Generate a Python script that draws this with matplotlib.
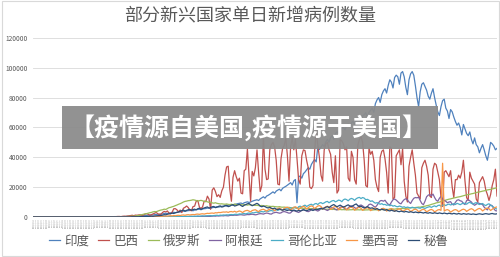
import matplotlib
matplotlib.use("Agg")
import matplotlib.pyplot as plt
from matplotlib.patches import Rectangle
import numpy as np
import pandas as pd

plt.rcParams['font.family'] = ['Noto Sans CJK SC', 'DejaVu Sans']

# daily new cases, thousands (291 days from 2020-01-22)
dates = pd.date_range("2020-01-22", periods=291, freq="D")
date_labels = [f"{d.year}/{d.month}/{d.day}" for d in dates]

india = [
    0, 0, 0, 0, 0, 0, 0, 0, 0, 0, 0, 0, 0, 0, 0, 0, 0, 0, 0, 0,
    0, 0, 0, 0, 0, 0, 0, 0, 0, 0, 0, 0, 0, 0, 0, 0, 0, 0, 0, 0,
    0, 0, 0, 0, 0, 0, 0, 0, 0.1, 0.1,
    0.1, 0.1, 0.1, 0.1, 0.2, 0.1, 0.2, 0.2, 0.3, 0.3,
    0.4, 0.5, 0.5, 0.5, 0.6, 0.7, 0.6, 0.8, 0.9, 0.8,
    0.9, 1.0, 1.1, 1.2, 1.3, 1.2, 1.5, 1.6, 1.4, 1.8,
    1.9, 2.0, 2.3, 2.4, 2.2, 2.6, 2.7, 2.9, 3.1, 2.8,
    3.2, 3.4, 3.3, 3.6, 3.9, 3.7, 4.0, 4.2, 4.3, 4.5,
    4.1, 4.6, 4.9, 5.0, 5.2, 4.8, 5.3, 5.5, 5.6, 5.9,
    6.0, 5.6, 6.2, 6.4, 6.5, 6.9, 6.6, 6.8, 7.1, 7.3,
    7.5, 7.2, 7.8, 8.0, 8.2, 7.7, 8.4, 8.6, 8.9, 9.1,
    9.3, 8.8, 9.5, 9.8, 10.1, 9.7, 10.0, 10.5, 10.9, 11.2,
    11.5, 11.0, 12.1, 12.8, 13.5, 12.6, 14.0, 14.5, 15.2, 16.0,
    16.8, 15.9, 17.3, 18.0, 18.6, 17.5, 19.2, 19.9, 20.5, 21.3,
    22.1, 23.0, 21.4, 24.2, 25.1, 9.5, 26.8, 27.5, 26.0, 29.0,
    30.1, 31.5, 33.0, 32.0, 35.2, 37.0, 38.5, 36.9, 47.0, 45.2,
    46.8, 48.5, 47.1, 50.3, 52.0, 50.1, 53.2, 54.5, 52.0, 55.8,
    57.1, 56.2, 58.0, 59.5, 60.2, 58.4, 61.0, 62.3, 60.5, 63.1,
    64.0, 62.1, 64.8, 66.0, 67.2, 64.5, 67.8, 68.5, 69.9, 66.5,
    70.1, 71.5, 73.0, 70.2, 76.0, 78.5, 80.1, 76.8, 82.0, 84.5,
    86.0, 83.1, 88.2, 92.0, 90.4, 86.5, 93.5, 95.1, 94.0, 89.0,
    96.5, 97.5, 94.0, 87.0, 82.0, 92.0, 96.0, 97.5, 95.0, 88.0,
    80.0, 74.0, 84.0, 89.0, 90.0, 87.5, 85.0, 81.0, 79.0, 83.0,
    86.0, 80.0, 75.0, 70.5, 68.0, 74.0, 78.0, 79.0, 73.0, 71.0,
    66.0, 72.0, 70.5, 67.0, 64.0, 61.5, 63.0, 60.0, 55.0, 62.0,
    59.0, 56.0, 54.5, 57.0, 52.0, 49.0, 53.0, 48.5, 47.0, 43.0,
    46.0, 48.5, 45.0, 41.0, 38.0, 44.0, 50.0, 49.0, 47.5, 45.0,
    46.0,
]

brazil = [
    0, 0, 0, 0, 0, 0, 0, 0, 0, 0, 0, 0, 0, 0, 0, 0, 0, 0, 0, 0,
    0, 0, 0, 0, 0, 0, 0, 0, 0, 0, 0, 0, 0, 0, 0, 0, 0, 0, 0, 0,
    0, 0, 0, 0, 0, 0, 0, 0.1, 0.1, 0.1,
    0.1, 0.2, 0.2, 0.3, 0.3, 0.2, 0.4, 0.5, 0.4, 0.6,
    0.7, 0.9, 1.1, 0.8, 1.2, 1.1, 1.3, 1.4, 1.1, 1.2,
    1.9, 2.2, 1.8, 1.1, 1.5, 2.0, 2.5, 3.0, 2.1, 1.7,
    1.8, 3.0, 3.7, 3.3, 4.0, 2.5, 2.1, 3.3, 5.5, 5.5,
    4.7, 3.4, 4.6, 2.9, 5.8, 6.4, 7.3, 6.3, 4.6, 4.1,
    6.9, 7.2, 10.5, 11.0, 6.6, 5.6, 6.8, 10.6, 10.2, 13.9,
    12.0, 5.1, 18.0, 19.5, 17.1, 13.6, 14.9, 13.1, 17.5, 19.9,
    28.0, 33.5, 34.0, 18.5, 10.5, 26.5, 31.0, 27.0, 24.0, 26.0,
    16.0, 15.5, 31.0, 32.0, 45.5, 28.5, 10.5, 30.5, 27.5, 33.0,
    45.0, 30.0, 17.0, 21.0, 54.0, 32.0, 25.0, 25.5, 45.0, 48.5,
    50.0, 47.0, 38.0, 22.0, 21.5, 39.0, 46.0, 48.0, 53.0, 41.0,
    24.0, 47.0, 53.0, 45.0, 52.0, 39.0, 25.0, 22.0, 41.0, 45.0,
    44.5, 38.0, 33.0, 20.0, 19.0, 21.0, 44.0, 58.0, 48.0, 40.0,
    28.0, 24.0, 45.0, 49.0, 50.0, 45.0, 42.0, 30.0, 23.0, 41.0,
    16.0, 18.0, 52.0, 51.0, 49.0, 45.0, 47.0, 26.0, 24.0, 44.0,
    40.0, 25.0, 22.0, 48.0, 52.0, 54.0, 50.0, 38.0, 21.0, 20.0,
    46.0, 42.0, 44.0, 38.0, 25.0, 20.0, 17.0, 40.0, 44.0, 45.0,
    39.0, 30.0, 16.0, 47.0, 46.0, 12.0, 13.0, 41.0, 43.0, 45.0,
    35.0, 46.0, 24.0, 14.0, 10.0, 34.0, 40.0, 45.0, 36.0, 28.0,
    16.0, 14.0, 12.0, 33.0, 36.0, 38.0, 34.0, 28.0, 14.0, 13.0,
    32.0, 36.0, 35.0, 30.0, 25.0, 13.0, 7.0, 30.0, 31.0, 29.0,
    27.0, 31.0, 20.0, 13.0, 25.0, 25.0, 28.0, 26.0, 30.0, 38.0,
    24.0, 13.0, 11.0, 30.0, 26.0, 24.0, 22.0, 12.0, 10.0, 23.0,
    25.0, 27.0, 24.0, 18.0, 15.0, 11.0, 15.0, 21.0, 25.0, 32.0,
    14.0,
]

russia = [
    0, 0, 0, 0, 0, 0, 0, 0, 0, 0, 0, 0, 0, 0, 0, 0, 0, 0, 0, 0,
    0, 0, 0, 0, 0, 0, 0, 0, 0, 0, 0, 0, 0, 0, 0, 0, 0, 0, 0, 0,
    0, 0, 0, 0, 0, 0, 0, 0, 0, 0,
    0, 0, 0.1, 0.1, 0.1, 0.1, 0.2, 0.2, 0.2, 0.3,
    0.3, 0.4, 0.5, 0.5, 0.6, 0.8, 1.0, 1.2, 1.5, 1.8,
    2.0, 2.2, 2.5, 2.8, 3.0, 3.4, 3.6, 3.5, 3.9, 4.3,
    4.6, 4.8, 5.2, 5.0, 5.6, 6.2, 6.4, 6.8, 7.1, 7.6,
    8.0, 8.5, 8.9, 9.4, 10.0, 10.4, 10.6, 10.9, 11.0, 11.2,
    11.5, 11.3, 11.0, 10.6, 10.9, 11.1, 10.8, 10.3, 10.5, 10.1,
    9.8, 9.9, 9.4, 9.2, 9.5, 9.1, 8.9, 8.7, 8.8, 8.6,
    8.5, 8.7, 8.4, 8.3, 8.5, 8.2, 8.6, 8.3, 8.1, 8.4,
    8.2, 8.0, 8.3, 8.1, 7.9, 8.2, 8.0, 7.8, 7.9, 7.7,
    7.8, 7.6, 7.5, 7.7, 7.4, 7.3, 7.5, 7.2, 7.1, 7.0,
    7.1, 6.9, 6.8, 6.7, 6.9, 6.6, 6.5, 6.6, 6.4, 6.3,
    6.4, 6.2, 6.1, 6.2, 6.0, 6.1, 5.9, 5.8, 5.9, 5.7,
    5.8, 5.6, 5.7, 5.5, 5.6, 5.4, 5.5, 5.3, 5.4, 5.3,
    5.4, 5.2, 5.3, 5.1, 5.2, 5.0, 5.1, 5.0, 5.1, 4.9,
    5.0, 4.9, 5.0, 4.8, 4.9, 4.8, 4.9, 4.7, 4.8, 4.8,
    4.9, 4.8, 4.7, 4.8, 4.7, 4.8, 4.7, 4.6, 4.7, 4.7,
    4.8, 4.7, 4.6, 4.7, 4.8, 4.7, 4.9, 4.8, 5.0, 4.9,
    5.0, 5.1, 5.0, 5.2, 5.1, 5.3, 5.2, 5.4, 5.5, 5.4,
    5.6, 5.7, 5.6, 5.8, 5.9, 6.0, 6.1, 6.2, 6.1, 6.3,
    6.4, 6.6, 6.5, 6.8, 7.0, 7.2, 7.5, 7.7, 8.0, 8.4,
    8.7, 9.0, 9.4, 9.6, 9.9, 10.3, 10.7, 10.9, 11.3, 11.6,
    11.9, 12.1, 12.4, 12.7, 12.9, 13.2, 13.4, 13.6, 13.9, 14.2,
    14.5, 14.8, 15.0, 15.2, 15.5, 15.7, 16.0, 16.3, 16.6, 16.8,
    17.0, 17.3, 17.5, 17.8, 18.1, 18.3, 18.5, 18.8, 19.0, 19.3,
    19.5,
]

argentina = [
    0, 0, 0, 0, 0, 0, 0, 0, 0, 0, 0, 0, 0, 0, 0, 0, 0, 0, 0, 0,
    0, 0, 0, 0, 0, 0, 0, 0, 0, 0, 0, 0, 0, 0, 0, 0, 0, 0, 0, 0,
    0, 0, 0, 0, 0, 0, 0, 0, 0, 0, 0, 0, 0, 0, 0, 0, 0, 0, 0, 0,
    0, 0, 0, 0, 0, 0, 0, 0, 0, 0,
    0.1, 0.1, 0.1, 0.1, 0.1, 0.1, 0.1, 0.1, 0.1, 0.1,
    0.1, 0.1, 0.1, 0.1, 0.1, 0.2, 0.1, 0.1, 0.2, 0.2,
    0.1, 0.1, 0.2, 0.1, 0.2, 0.1, 0.1, 0.2, 0.2, 0.3,
    0.2, 0.2, 0.3, 0.3, 0.2, 0.3, 0.3, 0.3, 0.4, 0.3,
    0.3, 0.4, 0.5, 0.6, 0.5, 0.7, 0.6, 0.7, 0.8, 0.7,
    0.9, 0.8, 0.7, 1.0, 1.1, 1.0, 1.2, 1.1, 1.2, 1.4,
    1.5, 1.3, 1.2, 1.4, 1.6, 1.5, 1.7, 1.8, 1.6, 1.4,
    1.6, 2.0, 2.2, 2.1, 1.9, 2.3, 2.6, 2.4, 2.0, 1.9,
    2.6, 2.9, 3.1, 2.8, 2.5, 2.7, 3.4, 3.6, 3.3, 2.9,
    2.5, 2.7, 3.9, 4.2, 3.8, 3.4, 3.0, 3.6, 4.5, 4.8,
    4.4, 3.9, 3.5, 4.0, 5.0, 5.3, 5.0, 4.4, 3.9, 4.5,
    5.6, 5.9, 5.4, 4.8, 4.3, 4.9, 6.0, 6.2, 5.8, 5.1,
    4.6, 5.5, 6.5, 6.7, 6.2, 5.5, 5.0, 6.0, 7.1, 7.4,
    7.0, 6.2, 5.6, 6.4, 7.6, 8.0, 7.4, 6.6, 6.0, 7.0,
    8.3, 8.6, 8.0, 7.1, 6.5, 7.8, 9.5, 10.8, 11.0, 10.5,
    11.2, 9.6, 8.5, 8.0, 9.9, 11.5, 12.0, 11.3, 10.2, 9.2,
    8.8, 10.4, 11.6, 12.2, 11.5, 10.0, 9.0, 11.0, 12.5, 13.0,
    12.8, 13.2, 11.0, 9.0, 8.2, 10.5, 13.5, 14.6, 15.0, 14.2,
    15.3, 13.0, 11.2, 10.5, 12.5, 13.8, 12.0, 11.0, 10.5, 9.5,
    10.0, 10.2, 8.5, 8.0, 9.8, 11.2, 11.5, 10.8, 10.5, 9.0,
    8.3, 11.0, 11.6, 10.8, 10.0, 8.6, 7.8, 8.5, 9.5, 9.0,
    8.8, 8.2, 6.5, 5.5, 4.7, 6.8, 8.0, 7.5, 5.5, 4.2,
    4.0,
]

colombia = [
    0, 0, 0, 0, 0, 0, 0, 0, 0, 0, 0, 0, 0, 0, 0, 0, 0, 0, 0, 0,
    0, 0, 0, 0, 0, 0, 0, 0, 0, 0, 0, 0, 0, 0, 0, 0, 0, 0, 0, 0,
    0, 0, 0, 0, 0, 0, 0, 0, 0, 0, 0, 0, 0, 0, 0, 0, 0, 0, 0, 0,
    0, 0, 0, 0, 0, 0, 0, 0, 0, 0, 0, 0, 0, 0, 0, 0, 0, 0, 0, 0,
    0.1, 0.1, 0.1, 0.1, 0.1, 0.2, 0.1, 0.2, 0.2, 0.2,
    0.2, 0.2, 0.3, 0.2, 0.3, 0.3, 0.4, 0.3, 0.4, 0.4,
    0.4, 0.5, 0.4, 0.6, 0.5, 0.6, 0.7, 0.6, 0.7, 0.8,
    0.8, 0.9, 0.7, 0.9, 1.0, 1.1, 0.9, 1.2, 1.1, 1.3,
    1.2, 1.4, 1.3, 1.5, 1.6, 1.4, 1.7, 1.8, 1.6, 2.0,
    1.9, 2.1, 2.3, 2.0, 2.4, 2.6, 2.3, 2.8, 2.7, 3.0,
    3.2, 2.9, 3.4, 3.6, 3.3, 3.8, 4.0, 3.7, 4.1, 4.3,
    3.9, 4.5, 4.8, 4.4, 4.9, 5.2, 4.6, 5.0, 5.5, 5.3,
    5.8, 6.1, 5.4, 6.5, 6.3, 5.7, 6.8, 7.2, 6.6, 7.4,
    7.9, 7.0, 7.6, 8.2, 8.5, 7.8, 8.7, 9.0, 8.3, 9.3,
    9.6, 8.9, 9.4, 10.1, 10.4, 9.5, 10.2, 10.8, 11.0, 10.1,
    10.6, 11.3, 11.0, 10.2, 11.5, 12.0, 11.6, 10.8, 11.9, 12.4,
    12.0, 11.1, 12.2, 12.8, 13.1, 12.3, 13.0, 12.6, 11.5, 11.8,
    11.2, 10.4, 10.8, 9.9, 9.2, 9.6, 9.0, 8.5, 8.9, 8.2,
    8.4, 7.8, 8.1, 7.5, 7.9, 7.2, 7.6, 7.0, 6.8, 7.3,
    6.9, 6.5, 6.8, 6.2, 6.6, 6.3, 6.0, 6.5, 6.2, 5.9,
    6.3, 6.0, 5.8, 6.4, 6.1, 5.7, 6.2, 6.6, 6.9, 6.4,
    7.0, 7.4, 6.8, 7.6, 7.9, 7.2, 7.8, 8.2, 7.6, 8.3,
    8.6, 8.0, 8.4, 8.9, 8.3, 9.1, 8.7, 8.2, 8.8, 9.3,
    9.0, 8.5, 9.4, 9.8, 9.1, 8.6, 9.2, 9.6, 8.8, 8.3,
    8.7, 9.0, 8.1, 7.6, 8.4, 8.8, 7.9, 7.2, 6.5, 5.8,
    5.2,
]

mexico = [
    0, 0, 0, 0, 0, 0, 0, 0, 0, 0, 0, 0, 0, 0, 0, 0, 0, 0, 0, 0,
    0, 0, 0, 0, 0, 0, 0, 0, 0, 0, 0, 0, 0, 0, 0, 0, 0, 0, 0, 0,
    0, 0, 0, 0, 0, 0, 0, 0, 0, 0, 0, 0, 0, 0, 0, 0, 0, 0, 0, 0,
    0.1, 0.1, 0.1, 0.1, 0.1, 0.1, 0.1, 0.2, 0.2, 0.2,
    0.2, 0.2, 0.3, 0.2, 0.3, 0.3, 0.4, 0.4, 0.4, 0.5,
    0.4, 0.5, 0.6, 0.5, 0.6, 0.7, 0.8, 0.7, 0.9, 0.8,
    1.0, 1.1, 0.9, 1.2, 1.3, 1.1, 1.4, 1.5, 1.3, 1.5,
    1.6, 1.5, 1.8, 1.9, 1.7, 2.0, 2.1, 1.9, 2.2, 2.4,
    2.3, 2.5, 2.6, 2.4, 2.8, 2.7, 3.0, 2.9, 3.1, 3.3,
    3.2, 3.4, 3.0, 3.5, 3.6, 3.3, 3.8, 3.2, 3.6, 4.0,
    3.6, 2.9, 3.8, 4.2, 4.4, 3.9, 3.4, 4.3, 4.6, 4.8,
    4.1, 3.5, 4.5, 4.9, 5.1, 4.6, 3.9, 4.7, 5.2, 5.6,
    5.0, 4.1, 4.9, 5.6, 6.0, 5.3, 4.4, 5.8, 6.3, 6.5,
    6.0, 4.7, 5.4, 6.4, 6.8, 6.2, 4.9, 6.0, 6.7, 7.1,
    6.6, 5.2, 6.2, 7.0, 7.4, 6.9, 5.5, 6.5, 7.3, 7.6,
    7.0, 5.3, 6.1, 6.8, 7.2, 6.7, 5.0, 5.8, 6.6, 7.0,
    6.4, 4.8, 5.6, 6.5, 6.9, 6.2, 4.7, 5.4, 6.3, 6.6,
    6.0, 4.5, 5.3, 6.1, 6.4, 5.8, 4.4, 5.1, 5.9, 6.2,
    5.6, 4.2, 5.0, 5.8, 6.0, 5.4, 4.1, 4.8, 5.5, 5.8,
    5.2, 3.9, 4.6, 5.3, 5.6, 5.0, 3.8, 4.4, 5.1, 5.4,
    4.9, 3.7, 4.3, 5.0, 5.3, 4.8, 3.6, 4.2, 4.9, 5.2,
    4.7, 3.5, 4.1, 4.8, 5.1, 4.6, 3.4, 4.0, 4.7, 5.0,
    4.5, 3.3, 4.0, 4.7, 4.9, 4.4, 36.0, 3.9, 4.6, 4.9,
    4.4, 3.2, 3.9, 4.6, 4.9, 4.5, 3.5, 4.1, 4.8, 5.2,
    4.8, 3.7, 4.4, 5.1, 5.5, 5.0, 3.9, 4.6, 5.3, 5.7,
    5.2, 4.0, 4.8, 5.6, 6.0, 5.5, 4.3, 5.1, 5.9, 6.4,
    6.7,
]

peru = [
    0, 0, 0, 0, 0, 0, 0, 0, 0, 0, 0, 0, 0, 0, 0, 0, 0, 0, 0, 0,
    0, 0, 0, 0, 0, 0, 0, 0, 0, 0, 0, 0, 0, 0, 0, 0, 0, 0, 0, 0,
    0, 0, 0, 0, 0, 0, 0, 0, 0, 0, 0, 0, 0, 0, 0, 0, 0, 0, 0, 0,
    0, 0, 0.1, 0.1, 0.1, 0.1, 0.1, 0.2, 0.2, 0.2,
    0.2, 0.3, 0.3, 0.4, 0.5, 0.4, 0.6, 0.7, 0.8, 0.9,
    1.0, 1.2, 1.5, 1.4, 1.8, 2.0, 2.2, 2.5, 2.3, 2.8,
    3.0, 3.3, 3.8, 4.2, 4.6, 3.9, 4.4, 4.8, 5.0, 4.5,
    4.9, 5.2, 4.7, 5.5, 5.8, 5.1, 5.6, 6.0, 6.4, 6.7,
    5.9, 6.3, 6.8, 7.0, 6.2, 6.5, 7.1, 7.4, 6.6, 6.9,
    7.5, 7.8, 6.9, 7.2, 7.9, 8.2, 7.3, 7.6, 8.1, 8.4,
    7.6, 7.0, 7.8, 8.3, 8.8, 9.0, 8.2, 7.5, 8.0, 8.6,
    9.1, 8.4, 7.2, 6.8, 7.3, 6.9, 6.3, 6.0, 6.5, 5.8,
    5.5, 5.9, 5.2, 4.9, 5.4, 4.8, 4.5, 5.0, 4.6, 4.3,
    4.7, 4.4, 4.1, 4.6, 4.2, 3.9, 4.4, 4.0, 4.3, 4.8,
    4.5, 4.1, 4.6, 5.0, 4.7, 4.3, 4.8, 5.2, 4.9, 5.5,
    5.8, 5.3, 6.0, 6.5, 6.9, 6.2, 7.1, 7.8, 8.3, 7.5,
    6.8, 7.4, 7.9, 7.2, 6.6, 7.0, 7.6, 8.1, 7.3, 6.9,
    7.5, 8.2, 8.7, 7.6, 6.8, 7.2, 6.5, 6.0, 6.4, 6.9,
    6.2, 5.8, 6.1, 5.5, 5.1, 5.6, 5.0, 4.7, 5.2, 4.8,
    4.5, 4.9, 4.3, 4.0, 4.5, 4.1, 3.8, 4.2, 3.7, 3.5,
    3.9, 3.6, 3.3, 3.7, 3.4, 3.1, 3.5, 3.2, 2.9, 3.3,
    3.0, 2.8, 3.1, 2.9, 2.6, 3.0, 2.7, 2.5, 2.9, 2.6,
    2.4, 2.8, 2.5, 2.3, 2.7, 2.4, 2.2, 2.6, 2.3, 2.1,
    2.5, 2.2, 2.0, 2.4, 2.1, 1.9, 2.3, 2.0, 1.8, 2.2,
    2.0, 1.8, 2.1, 1.9, 1.7, 2.0, 1.8, 1.6, 1.9, 2.1,
    1.9, 1.7, 2.0, 2.2, 2.0, 1.8, 2.1, 2.3, 2.0, 1.9,
    2.1,
]

names = ["印度", "巴西", "俄罗斯", "阿根廷", "哥伦比亚", "墨西哥", "秘鲁"]
series = [india, brazil, russia, argentina, colombia, mexico, peru]
colors = ["#4F81BD", "#C0504D", "#9BBB59", "#8064A2", "#4BACC6", "#F79646", "#2C4D75"]

fig = plt.figure(figsize=(5.0, 2.57), dpi=100)
ax = fig.add_axes([0.066, 0.156, 0.928, 0.696])

x = np.arange(len(dates))
for name, vals, c in zip(names, series, colors):
    ax.plot(x, np.array(vals) * 1000, color=c, lw=0.9, label=name)

ax.set_xlim(0, len(dates) - 1)
ax.set_ylim(0, 120000)
ax.set_yticks(np.arange(0, 120001, 20000))
ax.tick_params(axis='y', labelsize=4.8, labelcolor='#595959', length=0, pad=4)
ax.set_xticks(x)
ax.set_xticklabels(date_labels, rotation=90, fontsize=1.5, color='#8c8c8c')
ax.tick_params(axis='x', length=0, pad=1)
ax.grid(axis='y', color='#d9d9d9', lw=0.6)
ax.set_axisbelow(True)
for s in ax.spines.values():
    s.set_visible(False)

fig.text(0.5, 0.94, "部分新兴国家单日新增病例数量", ha='center', va='center',
         fontsize=13, color='#595959')

fig.legend(loc='center', bbox_to_anchor=(0.497, 0.062), ncol=7, frameon=False,
           fontsize=9, handlelength=0.9, handletextpad=0.35, columnspacing=0.7,
           labelcolor='#595959')

# outer chart border
fig.patches.append(Rectangle((0.003, 0.005), 0.994, 0.99, transform=fig.transFigure,
                             fill=False, edgecolor='#d9d9d9', lw=0.8))

# grey banner over the plot
fig.patches.append(Rectangle((62 / 500, 1 - 149 / 257), 376 / 500, 43 / 257,
                             transform=fig.transFigure, facecolor='#8c8c8c',
                             alpha=0.95, edgecolor='none', zorder=5))
fig.text(0.497, 1 - 127.5 / 257, "【疫情源自美国,疫情源于美国】", ha='center', va='center',
         fontsize=18, color='white', fontweight='bold', zorder=6)

fig.savefig("out.png", dpi=100)
